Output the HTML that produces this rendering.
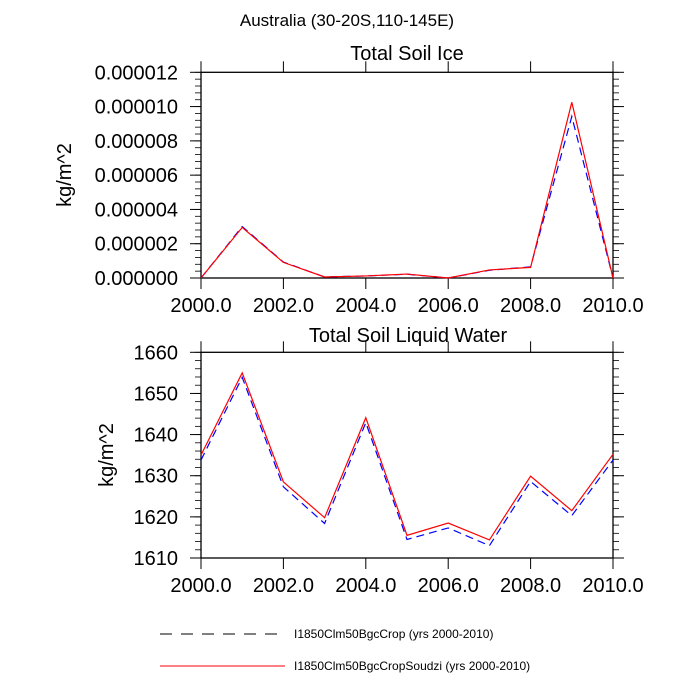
<!DOCTYPE html>
<html><head><meta charset="utf-8"><style>
body{margin:0;background:#fff;width:700px;height:700px;overflow:hidden}
svg{display:block;font-family:"Liberation Sans",sans-serif}
</style></head><body>
<svg id="chart" width="700" height="700">
<text x="347" y="26" font-size="17" text-anchor="middle">Australia (30-20S,110-145E)</text>
<text x="407" y="60" font-size="20" text-anchor="middle">Total Soil Ice</text>
<text x="408" y="342" font-size="20" text-anchor="middle">Total Soil Liquid Water</text>
<text transform="translate(71,175) rotate(-90)" font-size="20" text-anchor="middle">kg/m^2</text>
<text transform="translate(113,455) rotate(-90)" font-size="20" text-anchor="middle">kg/m^2</text>
<g id="top"></g>
<g id="bot"></g>
<line x1="160" y1="634" x2="285" y2="634" stroke="#000" stroke-width="1" stroke-dasharray="12,9"/>
<text x="294" y="638" font-size="12">I1850Clm50BgcCrop (yrs 2000-2010)</text>
<line x1="160" y1="666" x2="285" y2="666" stroke="#f00" stroke-width="1"/>
<text x="294" y="670" font-size="12">I1850Clm50BgcCropSoudzi (yrs 2000-2010)</text>
</svg>
<script>
const years=[2000,2001,2002,2003,2004,2005,2006,2007,2008,2009,2010];
const iceCrop=[0,3.0e-6,0.93e-6,0.06e-6,0.12e-6,0.22e-6,0,0.45e-6,0.65e-6,9.42e-6,0];
const iceSoudzi=[0,2.95e-6,0.91e-6,0.06e-6,0.12e-6,0.23e-6,0,0.47e-6,0.62e-6,10.25e-6,0];
const liqCrop=[1633.8,1653.9,1627.3,1618.4,1642.9,1614.5,1617.3,1613.0,1628.6,1620.3,1633.8];
const liqSoudzi=[1635.0,1655.0,1628.5,1619.8,1644.1,1615.5,1618.5,1614.4,1629.9,1621.5,1635.2];
const xTicks=[2000,2002,2004,2006,2008,2010];
const iceTicks=[0,2e-6,4e-6,6e-6,8e-6,10e-6,12e-6];
const iceTickLabels=["0.000000","0.000002","0.000004","0.000006","0.000008","0.000010","0.000012"];
const liqTicks=[1610,1620,1630,1640,1650,1660];
const NS="http://www.w3.org/2000/svg";
function mk(g,tag,a){const e=document.createElementNS(NS,tag);for(const k in a)e.setAttribute(k,a[k]);g.appendChild(e);return e;}
function panel(id,top,bot,ymin,ymax,ticks,labels,minorStep,s1,s2){
  const g=document.getElementById(id);const L=201,R=613;
  const X=v=>L+(v-2000)/10*(R-L);
  const Y=v=>bot-(v-ymin)/(ymax-ymin)*(bot-top);
  const fr=mk(g,'rect',{x:L,y:top,width:R-L,height:bot-top,fill:'none',stroke:'#000','stroke-width':1.3});
  
  xTicks.forEach(t=>{
    mk(g,'line',{x1:X(t),x2:X(t),y1:bot,y2:bot+11,stroke:'#000','stroke-width':1});
    mk(g,'line',{x1:X(t),x2:X(t),y1:top,y2:top-11,stroke:'#000','stroke-width':1});
    const tx=mk(g,'text',{x:X(t),y:bot+34,'font-size':20,'text-anchor':'middle'});tx.textContent=t.toFixed(1);
    
  });
  for(let v=ymin;v<=ymax+minorStep/2;v+=minorStep){
    mk(g,'line',{x1:L,x2:L-6,y1:Y(v),y2:Y(v),stroke:'#000','stroke-width':0.8});
    mk(g,'line',{x1:R,x2:R+6,y1:Y(v),y2:Y(v),stroke:'#000','stroke-width':0.8});
  }
  ticks.forEach((t,i)=>{
    mk(g,'line',{x1:L,x2:L-11,y1:Y(t),y2:Y(t),stroke:'#000','stroke-width':1});
    mk(g,'line',{x1:R,x2:R+11,y1:Y(t),y2:Y(t),stroke:'#000','stroke-width':1});
    const tx=mk(g,'text',{x:L-23,y:Y(t)+7,'font-size':20,'text-anchor':'end'});tx.textContent=labels[i];
    
  });
  const p1=mk(g,'polyline',{points:years.map((y,i)=>X(y)+','+Y(s1[i])).join(' '),fill:'none',stroke:'#00f','stroke-width':1.2,'stroke-dasharray':'8,5'});
  
  const p2=mk(g,'polyline',{points:years.map((y,i)=>X(y)+','+Y(s2[i])).join(' '),fill:'none',stroke:'#f00','stroke-width':1.2});
  
}
panel('top',72.3,278,0,12e-6,iceTicks,iceTickLabels,0.4e-6,iceCrop,iceSoudzi);
panel('bot',352.3,558,1610,1660,liqTicks,liqTicks.map(String),2,liqCrop,liqSoudzi);
</script>
</body></html>
